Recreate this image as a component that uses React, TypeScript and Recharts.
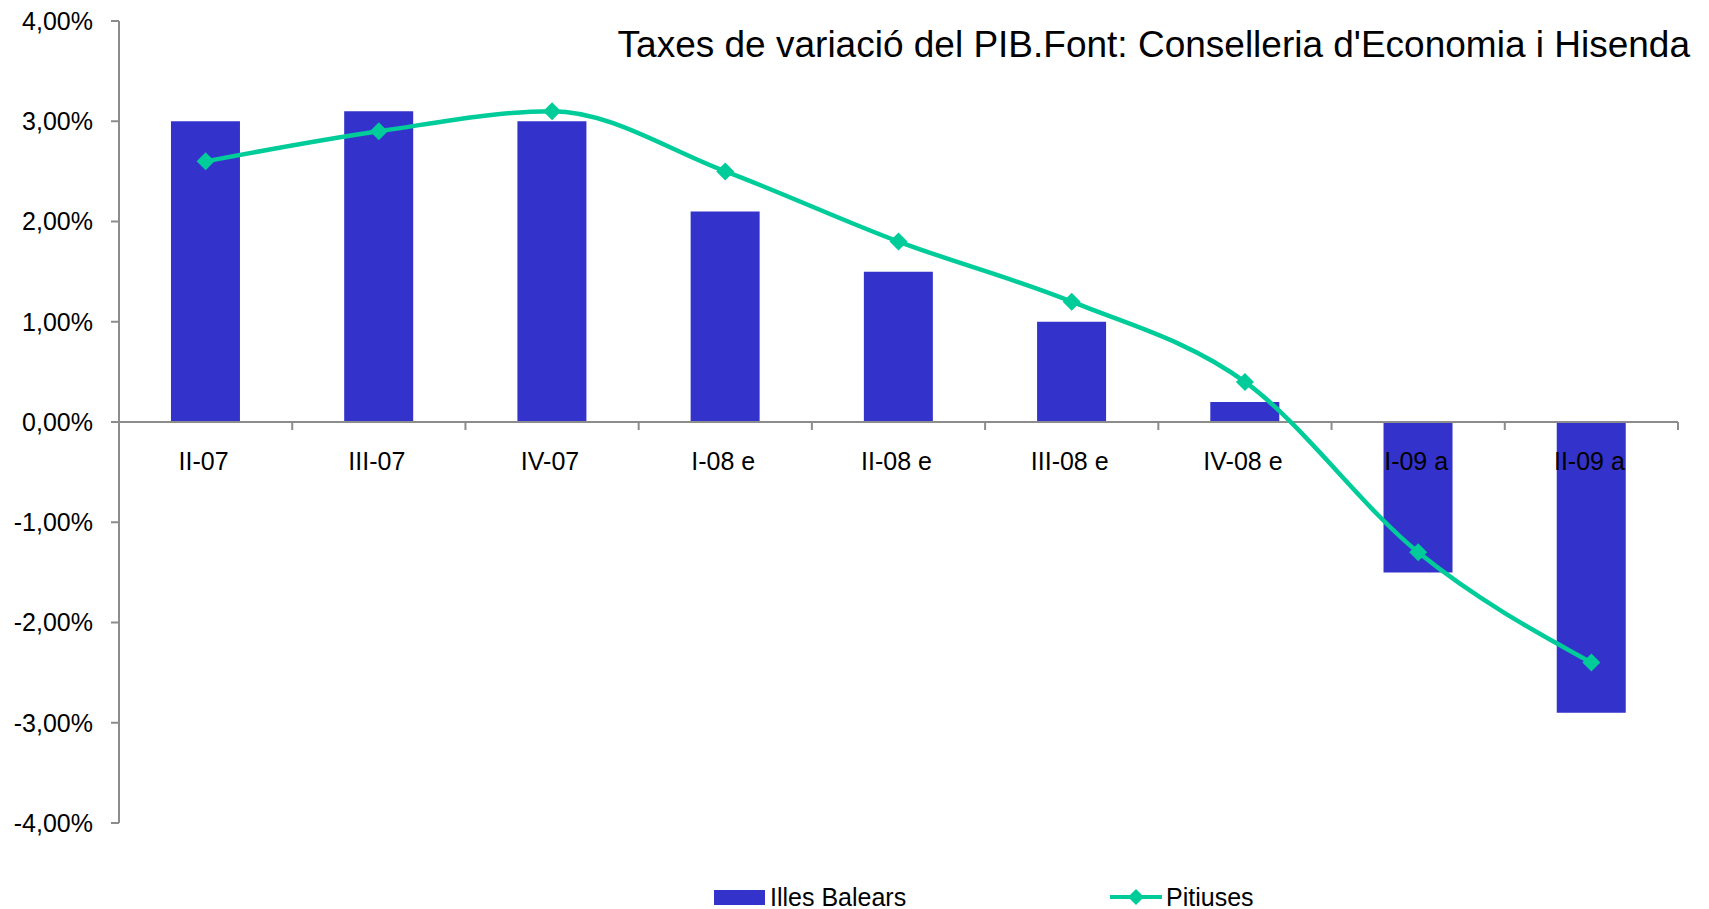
import React from 'react'
import { ComposedChart, Bar, Line, XAxis, YAxis, ReferenceLine, Legend } from 'recharts'

const quarters = ['II-07', 'III-07', 'IV-07', 'I-08 e', 'II-08 e', 'III-08 e', 'IV-08 e', 'I-09 a', 'II-09 a']
const illesBalears = [3.0, 3.1, 3.0, 2.1, 1.5, 1.0, 0.2, -1.5, -2.9]
const pitiuses = [2.6, 2.9, 3.1, 2.5, 1.8, 1.2, 0.4, -1.3, -2.4]
const yTicks = [-4, -3, -2, -1, 0, 1, 2, 3, 4]

const data = quarters.map((q, i) => ({ q, balears: illesBalears[i], pitiuses: pitiuses[i] }))

const W = 1709
const H = 909
const MARGIN = { top: 21, right: 31, left: 0, bottom: 55 }
const Y_AXIS_W = 119
const LEGEND_H = 30
const X_AXIS_H = 1
const PLOT_W = W - MARGIN.left - MARGIN.right - Y_AXIS_W
const PLOT_H = H - MARGIN.top - MARGIN.bottom - LEGEND_H - X_AXIS_H
const FONT = '"Liberation Sans", Arial, sans-serif'
const BAR_COLOR = '#3333CC'
const LINE_COLOR = '#00CC99'
const AXIS_COLOR = '#8c8c8c'

const fmtPct = (v: number) => v.toFixed(2).replace('.', ',') + '%'

// category labels sit on the zero line (middle of the symmetric domain), not under the plot
function CategoryTick(props: any) {
  const { x, payload, index } = props
  const zeroY = MARGIN.top + PLOT_H / 2
  const band = PLOT_W / quarters.length
  return (
    <g>
      <line x1={x - band / 2} x2={x - band / 2} y1={zeroY} y2={zeroY + 8} stroke={AXIS_COLOR} strokeWidth={2} />
      {index === quarters.length - 1 && (
        <line x1={x + band / 2} x2={x + band / 2} y1={zeroY} y2={zeroY + 8} stroke={AXIS_COLOR} strokeWidth={2} />
      )}
      <text x={x - 2} y={zeroY + 48} textAnchor="middle" fontSize={25} fontFamily={FONT} fill="#000">
        {payload.value}
      </text>
    </g>
  )
}

function Diamond(props: any) {
  const { cx, cy } = props
  if (cx == null || cy == null) return null
  const r = 9
  return (
    <polygon
      points={`${cx},${cy - r} ${cx + r},${cy} ${cx},${cy + r} ${cx - r},${cy}`}
      fill={LINE_COLOR}
    />
  )
}

function LegendBox() {
  return (
    <div style={{ position: 'relative', height: LEGEND_H, fontFamily: FONT, fontSize: 25, color: '#000' }}>
      <div style={{ position: 'absolute', left: 714, top: 0, display: 'flex', alignItems: 'center', height: LEGEND_H }}>
        <div style={{ width: 51, height: 15, background: BAR_COLOR, marginRight: 5 }} />
        <span>Illes Balears</span>
      </div>
      <div style={{ position: 'absolute', left: 1110, top: 0, display: 'flex', alignItems: 'center', height: LEGEND_H }}>
        <svg width={52} height={20} style={{ marginRight: 4 }}>
          <line x1={0} x2={52} y1={10} y2={10} stroke={LINE_COLOR} strokeWidth={4} />
          <polygon points="26,2 34,10 26,18 18,10" fill={LINE_COLOR} />
        </svg>
        <span>Pitiuses</span>
      </div>
    </div>
  )
}

export default function App() {
  return (
    <div style={{ position: 'absolute', left: 0, top: 0, width: W, height: H, background: '#fff', fontFamily: FONT }}>
      <div
        style={{
          position: 'absolute',
          right: 19,
          top: 26,
          fontSize: 37,
          lineHeight: 1,
          color: '#000',
          whiteSpace: 'nowrap',
          zIndex: 2,
        }}
      >
        Taxes de variació del PIB.Font: Conselleria d'Economia i Hisenda
      </div>
      <ComposedChart width={W} height={H} data={data} margin={MARGIN} barCategoryGap="30%">
        <YAxis
          width={Y_AXIS_W}
          domain={[-4, 4]}
          ticks={yTicks}
          tickFormatter={fmtPct}
          stroke={AXIS_COLOR}
          strokeWidth={2}
          tickSize={8}
          tickMargin={18}
          tick={{ fill: '#000', fontSize: 25, fontFamily: FONT }}
        />
        <XAxis
          dataKey="q"
          height={X_AXIS_H}
          axisLine={false}
          tickLine={false}
          interval={0}
          tick={CategoryTick}
        />
        <Bar dataKey="balears" name="Illes Balears" fill={BAR_COLOR} isAnimationActive={false} />
        <ReferenceLine y={0} stroke={AXIS_COLOR} strokeWidth={2} />
        <Line
          dataKey="pitiuses"
          name="Pitiuses"
          type="monotone"
          stroke={LINE_COLOR}
          strokeWidth={4.5}
          dot={<Diamond />}
          activeDot={false}
          isAnimationActive={false}
        />
        <Legend
          verticalAlign="bottom"
          content={<LegendBox />}
          wrapperStyle={{ left: 0, top: 882, width: W, height: LEGEND_H }}
        />
      </ComposedChart>
    </div>
  )
}
